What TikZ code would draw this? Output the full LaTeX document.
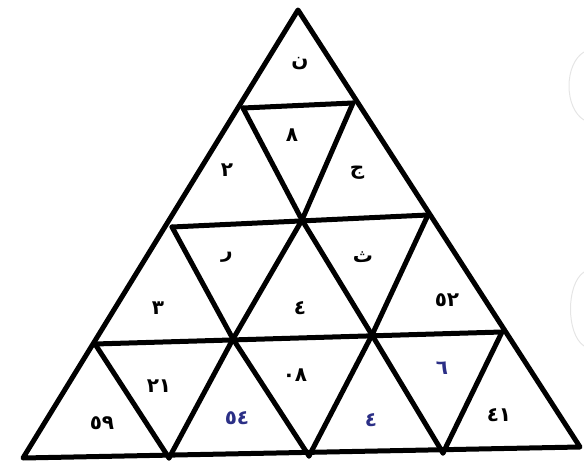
\documentclass[tikz,border=0pt]{standalone}
\usepackage{fontspec}
\newfontfamily\arabicfont[Script=Arabic]{DejaVu Sans}
\TeXXeTstate=1
\definecolor{navyink}{HTML}{2B2F86}
\begin{document}
\begin{tikzpicture}[x=1pt,y=-1pt,
edge/.style={line width=5pt,line join=round,line cap=round},
digit/.style={font=\arabicfont\bfseries\fontsize{20}{20}\selectfont,inner sep=0pt},
bluedigit/.style={digit,text=navyink},
ghost/.style={gray!20,line width=1pt}
]
\useasboundingbox (0,0) rectangle (584,468);

\coordinate (a) at (298,10);
\coordinate (l1) at (243,108);
\coordinate (r1) at (353,103);
\coordinate (l2) at (172,227);
\coordinate (m2) at (302,220);
\coordinate (r2) at (428,215);
\coordinate (l3) at (95,344);
\coordinate (m3) at (233,339);
\coordinate (n3) at (372,335);
\coordinate (r3) at (502,332);
\coordinate (b0) at (23,458);
\coordinate (b1) at (169,458);
\coordinate (b2) at (309,456);
\coordinate (b3) at (443,453);
\coordinate (b4) at (580,447);

\draw[edge] (a) -- (b0) -- (b4) -- cycle;
\draw[edge] (l1) -- (r1);
\draw[edge] (l2) -- (r2);
\draw[edge] (l3) -- (r3);
\draw[edge] (l1) -- (m2) -- (n3) -- (b3);
\draw[edge] (l2) -- (m3) -- (b2);
\draw[edge] (l3) -- (b1);
\draw[edge] (r1) -- (m2) -- (m3) -- (b1);
\draw[edge] (r2) -- (n3) -- (b2);
\draw[edge] (r3) -- (b3);

\node[digit] (1) at (300,64) {\beginR ن\endR};
\node[digit] (2) at (227,170) {٢};
\node[digit] (3) at (292,135) {٨};
\node[digit] (4) at (357,173) {\beginR ج\endR};
\node[digit] (5) at (158,308) {٣};
\node[digit] (6) at (227,257) {\beginR ر\endR};
\node[digit] (7) at (300,308) {٤};
\node[digit] (8) at (363,257) {\beginR ث\endR};
\node[digit] (9) at (447,300) {٥٢};
\node[digit] (10) at (102,423) {٥٩};
\node[digit] (11) at (159,386) {٢١};
\node[bluedigit] (12) at (237,418) {٥٤};
\node[digit] (13) at (295,375) {٠٨};
\node[bluedigit] (14) at (371,420) {٤};
\node[bluedigit] (15) at (442,368) {٦};
\node[digit] (16) at (499,415) {٤١};

\draw[ghost] (584,52) .. controls (564,64) and (564,108) .. (584,120);
\draw[ghost] (584,272) .. controls (566,284) and (566,334) .. (584,346);
\end{tikzpicture}
\end{document}
